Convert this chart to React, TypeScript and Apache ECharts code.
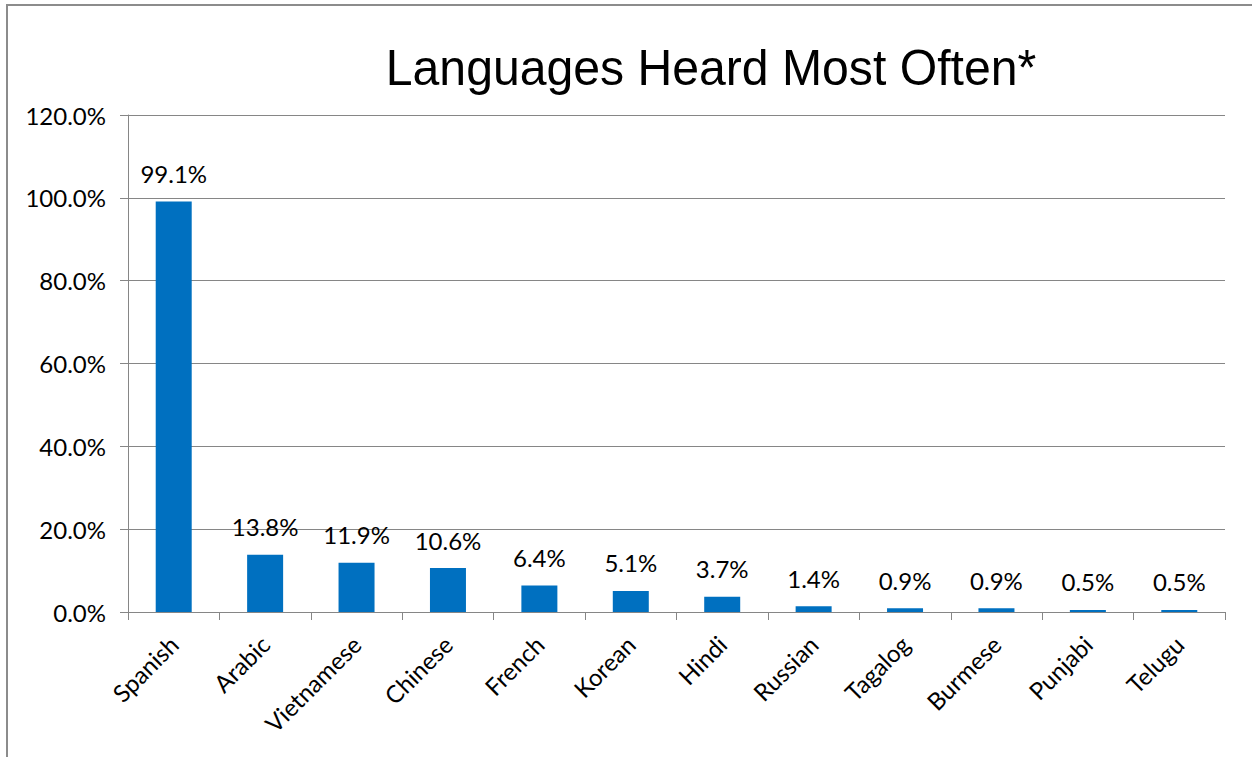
import React, { useEffect, useRef } from "react";
import * as echarts from "echarts";

const categories = ["Spanish", "Arabic", "Vietnamese", "Chinese", "French", "Korean", "Hindi", "Russian", "Tagalog", "Burmese", "Punjabi", "Telugu"];
const values = [99.1, 13.8, 11.9, 10.6, 6.4, 5.1, 3.7, 1.4, 0.9, 0.9, 0.5, 0.5];
const titleText = "Languages Heard Most Often*";

export default function App() {
  const ref = useRef<HTMLDivElement>(null);
  useEffect(() => {
    if (!ref.current) return;
    const chart = echarts.init(ref.current, null, { renderer: "svg" });
    const gray = "#868686";
    const font = "Lato, 'Open Sans', sans-serif";
    chart.setOption({
      animation: false,
      backgroundColor: "#ffffff",
      graphic: [
        {
          type: "rect",
          shape: { x: 7, y: 5, width: 1300, height: 800 },
          style: { fill: "none", stroke: "#8c8c8c", lineWidth: 2 },
          silent: true,
        },
        {
          type: "text",
          x: 711,
          y: 43,
          scaleX: 0.963,
          style: {
            text: titleText,
            fill: "#000",
            font: "50px 'Liberation Sans', Arial, sans-serif",
            textAlign: "center",
            textVerticalAlign: "top",
          },
        },
      ],
      grid: { left: 128, right: 27, top: 115, bottom: 145, containLabel: false },
      xAxis: {
        type: "category",
        data: categories,
        axisLine: { show: true, lineStyle: { color: gray, width: 1 } },
        axisTick: { show: true, length: 8, lineStyle: { color: gray }, alignWithLabel: false },
        axisLabel: { rotate: 45, margin: 28, color: "#000", fontSize: 24, fontFamily: font, interval: 0 },
      },
      yAxis: {
        type: "value",
        min: 0,
        max: 120,
        interval: 20,
        axisLine: { show: true, lineStyle: { color: gray, width: 1 } },
        axisTick: { show: true, length: 8, lineStyle: { color: gray } },
        splitLine: { show: true, lineStyle: { color: gray, width: 1 } },
        axisLabel: {
          color: "#000",
          fontSize: 24,
          fontFamily: font,
          margin: 22,
          formatter: (v: number) => v.toFixed(1) + "%",
        },
      },
      series: [
        {
          type: "bar",
          data: values,
          barWidth: 36,
          itemStyle: { color: "#0070C0" },
          label: {
            show: true,
            position: "top",
            distance: 16,
            color: "#000",
            fontSize: 24,
            fontFamily: font,
            formatter: (p: any) => Number(p.value).toFixed(1) + "%",
          },
        },
      ],
    });
    return () => chart.dispose();
  }, []);
  return (
    <div
      ref={ref}
      style={{ position: "absolute", left: 0, top: 0, width: 1252, height: 757 }}
    />
  );
}
